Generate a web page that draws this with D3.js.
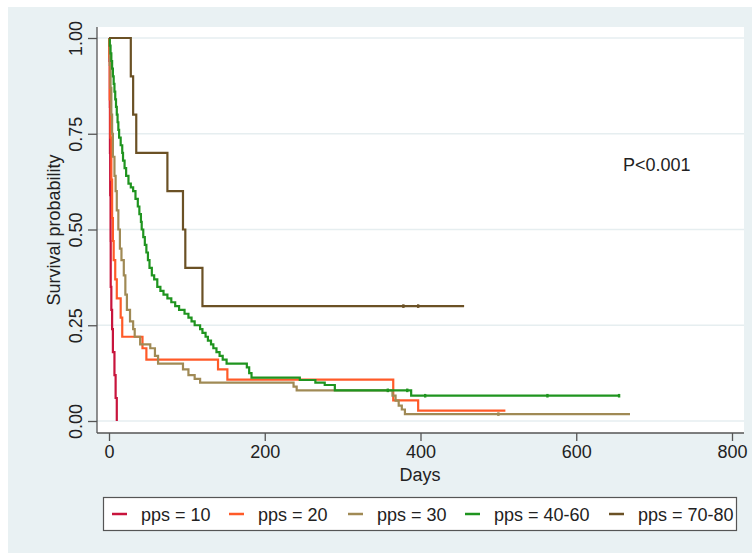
<!DOCTYPE html>
<html>
<head>
<meta charset="utf-8">
<script src="https://cdn.jsdelivr.net/npm/d3@7"></script>
<style>
  html, body { margin: 0; padding: 0; background: #ffffff; }
  svg { display: block; font-family: "Liberation Sans", Arial, sans-serif; }
</style>
</head>
<body>
<svg id="chart" width="752" height="553"></svg>
<script>
// ---------------- DATA ----------------
const seriesNames = ["pps = 10", "pps = 20", "pps = 30", "pps = 40-60", "pps = 70-80"];
const seriesColors = ["#c8143c", "#ff5a28", "#a08a55", "#1f941f", "#6b5125"];

// pps = 10
const days10 = [0, 0.5, 1, 1.2, 1.5, 2, 2.2, 3, 4, 5, 7, 8.5, 10];
const surv10 = [1, 0.94, 0.82, 0.70, 0.59, 0.47, 0.35, 0.29, 0.24, 0.18, 0.12, 0.06, 0];
const end10 = 10;
const cens10 = [];

// pps = 20
const days20 = [0, 0.3, 1, 2, 3, 4, 5, 6, 8, 10, 15, 17, 43, 48, 140, 152, 365, 397];
const surv20 = [1, 0.95, 0.84, 0.74, 0.63, 0.53, 0.47, 0.42, 0.37, 0.32, 0.27, 0.22, 0.19, 0.16, 0.135, 0.108, 0.054, 0.027];
const end20 = 509;
const cens20 = [];

// pps = 30
const days30 = [0, 1, 2, 3, 4, 5, 7, 8.5, 10, 12, 14, 16, 19, 21, 23, 27, 31, 33, 40, 53, 59, 63, 95, 102, 110, 117, 237, 241, 364, 368, 372, 376, 380];
const surv30 = [1, 0.93, 0.87, 0.80, 0.75, 0.69, 0.64, 0.60, 0.55, 0.50, 0.45, 0.42, 0.38, 0.33, 0.29, 0.26, 0.24, 0.22, 0.20, 0.19, 0.17, 0.15, 0.135, 0.12, 0.11, 0.10, 0.09, 0.08, 0.066, 0.053, 0.04, 0.03, 0.018];
const end30 = 669;
const cens30 = [500];

// pps = 40-60
const days4060 = [0, 1, 2, 3, 4, 5, 6, 7, 8, 9, 10, 11, 12, 13, 15, 17, 18, 20, 22, 25, 28, 31, 34, 37, 39, 41, 42, 44, 46, 48, 50, 52, 55, 58, 62, 66, 70, 75, 80, 85, 90, 97, 102, 106, 110, 117, 120, 124, 127, 131, 134, 138, 142, 146, 151, 177, 180, 183, 245, 265, 277, 290, 388];
const surv4060 = [1, 0.98, 0.96, 0.94, 0.92, 0.90, 0.88, 0.86, 0.84, 0.82, 0.80, 0.78, 0.76, 0.74, 0.72, 0.70, 0.68, 0.66, 0.64, 0.62, 0.61, 0.60, 0.58, 0.56, 0.54, 0.52, 0.50, 0.48, 0.46, 0.44, 0.42, 0.40, 0.38, 0.37, 0.35, 0.34, 0.33, 0.32, 0.31, 0.30, 0.29, 0.28, 0.27, 0.26, 0.25, 0.24, 0.23, 0.22, 0.21, 0.20, 0.19, 0.18, 0.17, 0.16, 0.15, 0.14, 0.125, 0.113, 0.107, 0.10, 0.094, 0.08, 0.066];
const end4060 = 656;
const cens4060 = [358, 383, 406, 563, 655];

// pps = 70-80
const days7080 = [0, 28, 31, 35, 75, 95, 98, 120];
const surv7080 = [1, 0.9, 0.8, 0.7, 0.6, 0.5, 0.4, 0.3];
const end7080 = 456;
const cens7080 = [378, 397];

const xTicks = [0, 200, 400, 600, 800];
const yTicks = [0, 0.25, 0.5, 0.75, 1];
const annotation = "P<0.001";

// ---------------- BUILD ----------------
const series = [
  {days: days10, surv: surv10, end: end10, cens: cens10},
  {days: days20, surv: surv20, end: end20, cens: cens20},
  {days: days30, surv: surv30, end: end30, cens: cens30},
  {days: days4060, surv: surv4060, end: end4060, cens: cens4060},
  {days: days7080, surv: surv7080, end: end7080, cens: cens7080}
].map((s, i) => ({...s, name: seriesNames[i], color: seriesColors[i]}));

const svg = d3.select("#chart");

// outer background
svg.append("rect").attr("x", 8).attr("y", 7).attr("width", 744).attr("height", 546).attr("fill", "#e9f1f3");
// plot region
const plot = {left: 97, right: 744, top: 27, bottom: 433};
svg.append("rect").attr("x", plot.left).attr("y", plot.top)
  .attr("width", plot.right - plot.left).attr("height", plot.bottom - plot.top).attr("fill", "#ffffff");

const x = d3.scaleLinear().domain([0, 800]).range([109, 732]);
const y = d3.scaleLinear().domain([0, 1]).range([421, 38]);

// gridlines
svg.append("g").selectAll("line").data(yTicks).join("line")
  .attr("x1", plot.left).attr("x2", plot.right)
  .attr("y1", d => y(d)).attr("y2", d => y(d))
  .attr("stroke", "#e6eef0").attr("stroke-width", 1.5);

// axes
const fmtY = d3.format(".2f");
const yAxis = svg.append("g").attr("transform", `translate(${plot.left},0)`)
  .call(d3.axisLeft(y).tickValues(yTicks).tickSize(9).tickFormat(fmtY));
yAxis.select(".domain").remove();
yAxis.append("line").attr("x1", 0).attr("x2", 0).attr("y1", plot.top).attr("y2", plot.bottom)
  .attr("stroke", "#555").attr("stroke-width", 1.3);
yAxis.selectAll(".tick line").attr("stroke", "#555").attr("stroke-width", 1.3);
yAxis.selectAll(".tick text")
  .attr("transform", "rotate(-90)")
  .attr("x", 0).attr("y", -15).attr("dy", 0)
  .attr("text-anchor", "middle")
  .attr("fill", "#222").attr("font-size", 18)
  .attr("font-family", "'Liberation Sans', Arial, sans-serif");

const xAxis = svg.append("g").attr("transform", `translate(0,${plot.bottom})`)
  .call(d3.axisBottom(x).tickValues(xTicks).tickSize(8).tickFormat(d3.format("d")));
xAxis.select(".domain").remove();
xAxis.append("line").attr("x1", plot.left).attr("x2", plot.right).attr("y1", 0).attr("y2", 0)
  .attr("stroke", "#555").attr("stroke-width", 1.3);
xAxis.selectAll(".tick line").attr("stroke", "#555").attr("stroke-width", 1.3);
xAxis.selectAll(".tick text").attr("y", 12).attr("dy", "0.71em")
  .attr("fill", "#222").attr("font-size", 18)
  .attr("font-family", "'Liberation Sans', Arial, sans-serif");

// axis titles
svg.append("text").attr("x", 420).attr("y", 481).attr("text-anchor", "middle")
  .attr("font-size", 18).attr("fill", "#222").text("Days");
svg.append("text").attr("transform", "translate(60,230) rotate(-90)")
  .attr("text-anchor", "middle").attr("font-size", 18).attr("fill", "#222").text("Survival probability");

// curves
const line = d3.line().x(d => x(d[0])).y(d => y(d[1])).curve(d3.curveStepAfter);
const curvesG = svg.append("g");
series.forEach(s => {
  const pts = s.days.map((d, i) => [d, s.surv[i]]);
  pts.push([s.end, s.surv[s.surv.length - 1]]);
  curvesG.append("path").datum(pts)
    .attr("d", line).attr("fill", "none")
    .attr("stroke", s.color).attr("stroke-width", 2.2)
    .attr("stroke-linejoin", "miter");
  // censoring marks (small)
  const survAt = t => { let v = 1; s.days.forEach((d, i) => { if (d <= t) v = s.surv[i]; }); return v; };
  curvesG.selectAll(null).data(s.cens).join("line")
    .attr("x1", d => x(d)).attr("x2", d => x(d))
    .attr("y1", d => y(survAt(d)) - 1.8).attr("y2", d => y(survAt(d)) + 1.8)
    .attr("stroke", s.color).attr("stroke-width", 2.4);
});

// annotation
svg.append("text").attr("x", 623).attr("y", 171).attr("font-size", 18).attr("fill", "#222").text(annotation);

// legend
const lg = svg.append("g");
lg.append("rect").attr("x", 103.5).attr("y", 497.5).attr("width", 633).attr("height", 33)
  .attr("fill", "#ffffff").attr("stroke", "#555").attr("stroke-width", 1.2);
const legendX = [112, 229, 348, 465, 609];
series.forEach((s, i) => {
  lg.append("line").attr("x1", legendX[i]).attr("x2", legendX[i] + 15)
    .attr("y1", 514).attr("y2", 514).attr("stroke", s.color).attr("stroke-width", 2.5);
  lg.append("text").attr("x", legendX[i] + 29).attr("y", 520.5)
    .attr("font-size", 18).attr("fill", "#222").text(s.name);
});
</script>
</body>
</html>
